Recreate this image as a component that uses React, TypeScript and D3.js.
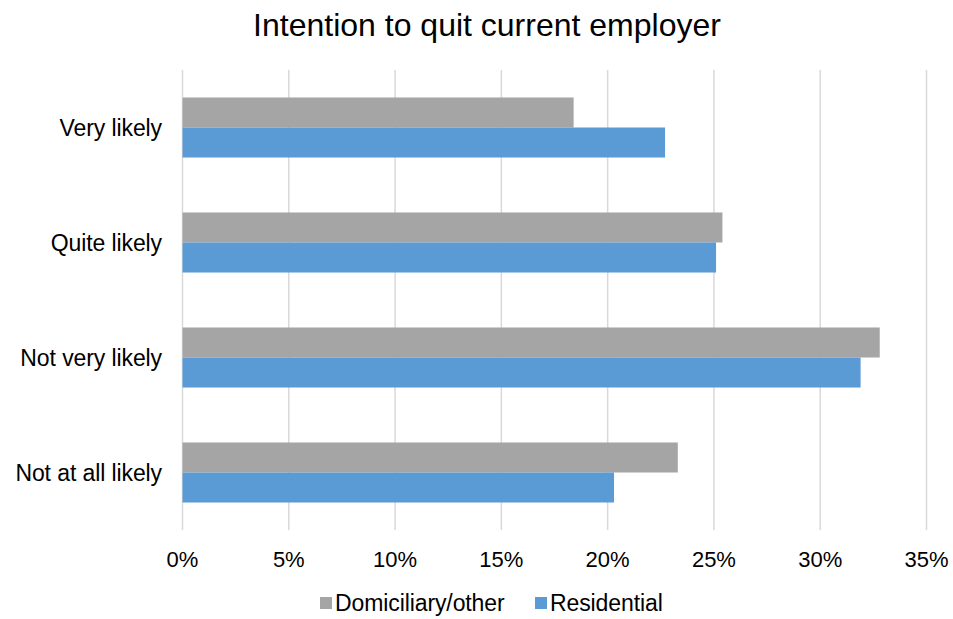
import React from "react";
import * as d3 from "d3";

const categories = ["Very likely", "Quite likely", "Not very likely", "Not at all likely"];
const seriesNames = ["Domiciliary/other", "Residential"];
const domiciliary = [0.184, 0.254, 0.328, 0.233];
const residential = [0.227, 0.251, 0.319, 0.203];
const tickValues = [0, 0.05, 0.1, 0.15, 0.2, 0.25, 0.3, 0.35];
const colors = ["#A5A5A5", "#5B9BD5"];

const W = 953;
const H = 619;
const FONT = "'Liberation Sans', Arial, sans-serif";

export default function App() {
  const left = 182.5;
  const right = 926.5;
  const top = 70;
  const bottom = 530;
  const x = d3.scaleLinear().domain([0, 0.35]).range([left, right]);
  const y = d3.scaleBand<string>().domain(categories).range([top, bottom]).paddingInner(0.478).paddingOuter(0.239);
  const inner = d3.scaleBand<string>().domain(seriesNames).range([0, y.bandwidth()]);
  const series = [domiciliary, residential];
  const fmt = d3.format(".0%");

  return (
    <svg width={W} height={H} style={{ position: "absolute", left: 0, top: 0, background: "#fff" }} fontFamily={FONT}>
      <rect width={W} height={H} fill="#fff" />
      <text x={487} y={36} textAnchor="middle" fontSize={32} fill="#000">
        Intention to quit current employer
      </text>
      {tickValues.map((t) => (
        <g key={t}>
          <line x1={x(t)} x2={x(t)} y1={top} y2={bottom} stroke="#D9D9D9" strokeWidth={1.5} />
          <text x={x(t)} y={567} textAnchor="middle" fontSize={22} fill="#000">
            {fmt(t)}
          </text>
        </g>
      ))}
      {categories.map((c, i) => (
        <g key={c}>
          {series.map((s, j) => (
            <rect
              key={j}
              x={x(0)}
              y={(y(c) as number) + (inner(seriesNames[j]) as number)}
              width={x(s[i]) - x(0)}
              height={inner.bandwidth()}
              fill={colors[j]}
            />
          ))}
          <text
            x={162}
            y={(y(c) as number) + y.bandwidth() / 2}
            dy="0.35em"
            textAnchor="end"
            fontSize={23}
            fill="#000"
            letterSpacing={-0.1}
          >
            {c}
          </text>
        </g>
      ))}
      {seriesNames.map((n, j) => {
        const lx = j === 0 ? 320 : 535;
        return (
          <g key={n}>
            <rect x={lx} y={597} width={12} height={12} fill={colors[j]} />
            <text x={lx + 15} y={611} fontSize={23} fill="#000" letterSpacing={-0.1}>
              {n}
            </text>
          </g>
        );
      })}
    </svg>
  );
}
